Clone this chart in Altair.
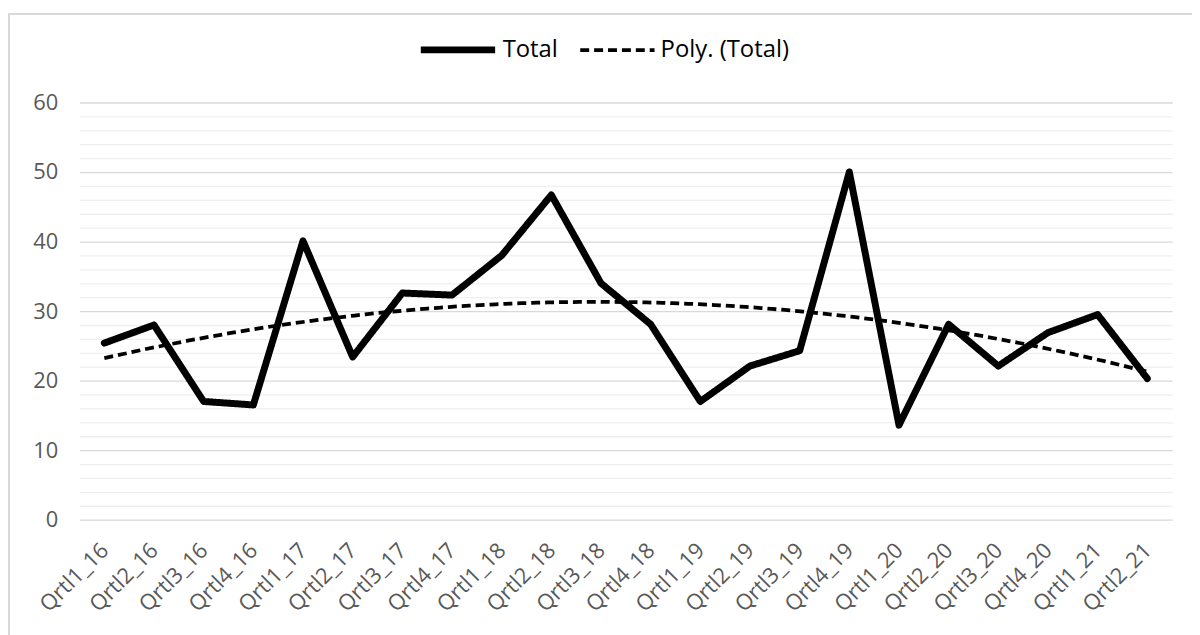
import altair as alt
import pandas as pd
import json

quarters = ["Qrtl1_16", "Qrtl2_16", "Qrtl3_16", "Qrtl4_16",
            "Qrtl1_17", "Qrtl2_17", "Qrtl3_17", "Qrtl4_17",
            "Qrtl1_18", "Qrtl2_18", "Qrtl3_18", "Qrtl4_18",
            "Qrtl1_19", "Qrtl2_19", "Qrtl3_19", "Qrtl4_19",
            "Qrtl1_20", "Qrtl2_20", "Qrtl3_20", "Qrtl4_20",
            "Qrtl1_21", "Qrtl2_21"]
totals = [25.4, 28.0, 17.0, 16.5, 40.1, 23.4, 32.6, 32.3, 38.0, 46.7, 34.0,
          28.1, 17.0, 22.1, 24.3, 50.0, 13.6, 28.1, 22.1, 26.9, 29.5, 20.3]
series_names = ["Total", "Poly. (Total)"]

df = pd.DataFrame({"idx": list(range(len(quarters))), "q": quarters, "value": totals})

FONT = "Open Sans"
labels_js = json.dumps(quarters)

x_enc = alt.X("idx:Q",
              scale=alt.Scale(domain=[-0.5, len(quarters) - 0.5], nice=False, zero=False),
              axis=alt.Axis(values=list(range(len(quarters))),
                            labelExpr=f"{labels_js}[datum.value]",
                            labelAngle=315, labelAlign="right", labelBaseline="middle",
                            labelPadding=27, grid=False, domain=False, ticks=False,
                            title=None, labelFontSize=22, labelColor="#595959",
                            labelFont=FONT, labelOverlap=False))
y_enc = alt.Y("value:Q",
              scale=alt.Scale(domain=[0, 60], nice=False),
              axis=alt.Axis(values=list(range(0, 61, 2)),
                            labelExpr="datum.value % 10 === 0 ? datum.label : ''",
                            gridColor={"condition": {"test": "datum.value % 10 === 0", "value": "#d9d9d9"},
                                       "value": "#efefef"},
                            gridWidth=1.3,
                            domain=False, ticks=False, title=None,
                            labelFontSize=22, labelColor="#595959", labelFont=FONT,
                            labelPadding=22))

legend_cfg = dict(title=None, orient="none", legendX=340, legendY=-94,
                  direction="horizontal", symbolType="stroke",
                  symbolSize=5600, symbolStrokeColor="black",
                  labelFontSize=24, labelFont=FONT, labelColor="black",
                  columnPadding=14, symbolOffset=0, labelOffset=4)

dash = alt.StrokeDash("series:N",
                      scale=alt.Scale(domain=series_names, range=[[1, 0], [9, 5]]),
                      legend=alt.Legend(**legend_cfg))
width = alt.StrokeWidth("series:N",
                        scale=alt.Scale(domain=series_names, range=[7, 3.8]),
                        legend=alt.Legend(**legend_cfg))

base = alt.Chart(df)

border = alt.Chart(pd.DataFrame({"b": [0]})).mark_rect(
    fill="white", fillOpacity=0, stroke="#d9d9d9", strokeWidth=2
).encode(x=alt.value(-71), x2=alt.value(1240), y=alt.value(-89), y2=alt.value(640))

total_line = base.transform_calculate(series="'Total'").mark_line(
    color="black", strokeCap="round", strokeJoin="round"
).encode(x=x_enc, y=y_enc, strokeDash=dash, strokeWidth=width)

trend_line = base.transform_regression(
    "idx", "value", method="poly", order=2, extent=[0, len(quarters) - 1]
).transform_calculate(series="'Poly. (Total)'").mark_line(
    color="black"
).encode(x=x_enc, y=y_enc, strokeDash=dash, strokeWidth=width)

chart = alt.layer(border, trend_line, total_line).properties(
    width=1100, height=420,
    autosize=alt.AutoSizeParams(type="none"),
    padding={"left": 72, "top": 93, "right": 20, "bottom": 119},
    background="white",
).configure_view(stroke=None)

chart.save("out.html", embed_options={"renderer": "svg", "actions": False})
